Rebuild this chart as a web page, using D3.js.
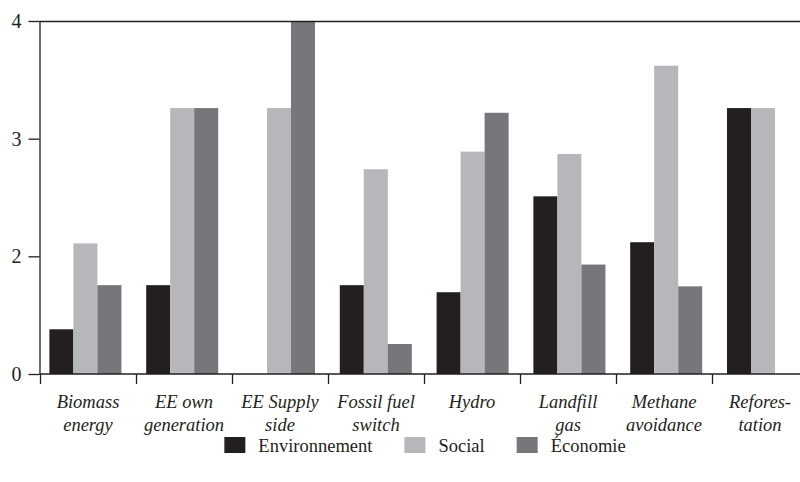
<!DOCTYPE html>
<html>
<head>
<meta charset="utf-8">
<script src="https://cdn.jsdelivr.net/npm/d3@7"></script>
<style>
  html, body { margin: 0; padding: 0; background: #ffffff; }
  svg { display: block; }
</style>
</head>
<body>
<svg id="chart" width="800" height="482"></svg>
<script>
// ---- data ----
const categories = ["Biomass energy", "EE own generation", "EE Supply side", "Fossil fuel switch",
                    "Hydro", "Landfill gas", "Methane avoidance", "Reforestation"];
const categoryLabels = [["Biomass", "energy"], ["EE own", "generation"], ["EE Supply", "side"],
                        ["Fossil fuel", "switch"], ["Hydro"], ["Landfill", "gas"],
                        ["Methane", "avoidance"], ["Refores-", "tation"]];
const seriesNames = ["Environnement", "Social", "Économie"];
const environnement = [0.76, 1.51, null, 1.51, 1.39, 2.51, 2.12, 3.26];
const social        = [2.11, 3.26, 3.26, 2.74, 2.89, 2.87, 3.62, 3.26];
const economie      = [1.51, 3.26, 4.00, 0.51, 3.22, 1.86, 1.49, null];
const yTicks = [0, 2, 3, 4];
const yTickLabels = ["0", "2", "3", "4"];

// ---- style / layout ----
const colors = ["#231f20", "#b6b7ba", "#76777b"];
const ink = "#231f20";
const serif = "Liberation Serif";
const W = 800, H = 482;
const plotLeft = 39.5, plotTop = 21, plotBottom = 374;
const seriesValues = [environnement, social, economie];

const svg = d3.select("#chart");

// y: tick labels are equally spaced on the picture
const y = d3.scaleLinear()
  .domain(yTicks)
  .range(yTicks.map((d, i) => plotBottom - i * (plotBottom - plotTop) / (yTicks.length - 1)));

// category axis (tick marks at band edges)
const xCat = d3.scaleBand().domain(categories).range([40, 808]);
// bar group positions
const xGroup = d3.scaleBand().domain(categories).range([37, 811.4])
  .paddingInner(0.256).paddingOuter(0.128);
const xSeries = d3.scaleBand().domain(seriesNames).range([0, xGroup.bandwidth()]);

// bars
const barData = [];
categories.forEach((c, i) => {
  seriesNames.forEach((s, j) => {
    const v = seriesValues[j][i];
    if (v !== null && v > 0) barData.push({ c, s, v, j });
  });
});
svg.append("g").selectAll("rect").data(barData).join("rect")
  .attr("x", d => xGroup(d.c) + xSeries(d.s))
  .attr("width", xSeries.bandwidth())
  .attr("y", d => y(d.v))
  .attr("height", d => y(0) - y(d.v))
  .attr("fill", d => colors[d.j]);

// top frame line
svg.append("line")
  .attr("x1", plotLeft).attr("x2", W)
  .attr("y1", y(4) + 0.5).attr("y2", y(4) + 0.5)
  .attr("stroke", ink).attr("stroke-width", 1.3);

// baseline
svg.append("line")
  .attr("x1", plotLeft).attr("x2", W)
  .attr("y1", y(0)).attr("y2", y(0))
  .attr("stroke", ink).attr("stroke-width", 1.3);

// y axis
const yAxis = svg.append("g")
  .attr("transform", `translate(${plotLeft},0)`)
  .call(d3.axisLeft(y).tickValues(yTicks).tickSize(11).tickSizeOuter(0).tickPadding(7)
    .tickFormat((d, i) => yTickLabels[i]));
yAxis.attr("font-family", null).attr("font-size", null);
yAxis.select(".domain").attr("stroke", ink).attr("stroke-width", 1.3);
yAxis.selectAll(".tick line").attr("stroke", ink).attr("stroke-width", 1.3);
yAxis.selectAll(".tick text")
  .attr("fill", ink)
  .style("font-family", serif)
  .style("font-size", "20px");

// category boundary ticks
svg.append("g").selectAll("line").data(categories).join("line")
  .attr("x1", d => xCat(d) + 0.5).attr("x2", d => xCat(d) + 0.5)
  .attr("y1", y(0)).attr("y2", y(0) + 10)
  .attr("stroke", ink).attr("stroke-width", 1.3);

// category labels
const lab = svg.append("g").selectAll("text").data(categories).join("text")
  .attr("x", d => xCat(d) + xCat.bandwidth() / 2)
  .attr("y", 408)
  .attr("text-anchor", "middle")
  .attr("fill", ink)
  .style("font-family", serif)
  .style("font-style", "italic")
  .style("font-size", "18.5px");
lab.each(function(d, i) {
  const t = d3.select(this);
  categoryLabels[i].forEach((line, k) => {
    t.append("tspan")
      .attr("x", xCat(d) + xCat.bandwidth() / 2)
      .attr("dy", k === 0 ? 0 : 23)
      .text(line);
  });
});

// legend
const legend = svg.append("g");
const sq = 21, sqH = 16, gapText = 13, gapItem = 32;
let cx = 0;
seriesNames.forEach((s, j) => {
  const g = legend.append("g");
  g.append("rect").attr("x", 0).attr("y", 0).attr("width", sq).attr("height", sqH).attr("fill", colors[j]);
  const t = g.append("text")
    .attr("x", sq + gapText).attr("y", 15)
    .attr("fill", ink)
    .style("font-family", serif)
    .style("font-size", "18.5px")
    .text(s);
  const w = sq + gapText + t.node().getComputedTextLength();
  g.attr("transform", `translate(${cx},0)`);
  cx += w + gapItem;
});
const totalW = cx - gapItem;
legend.attr("transform", `translate(${425 - totalW / 2},437)`);
</script>
</body>
</html>
